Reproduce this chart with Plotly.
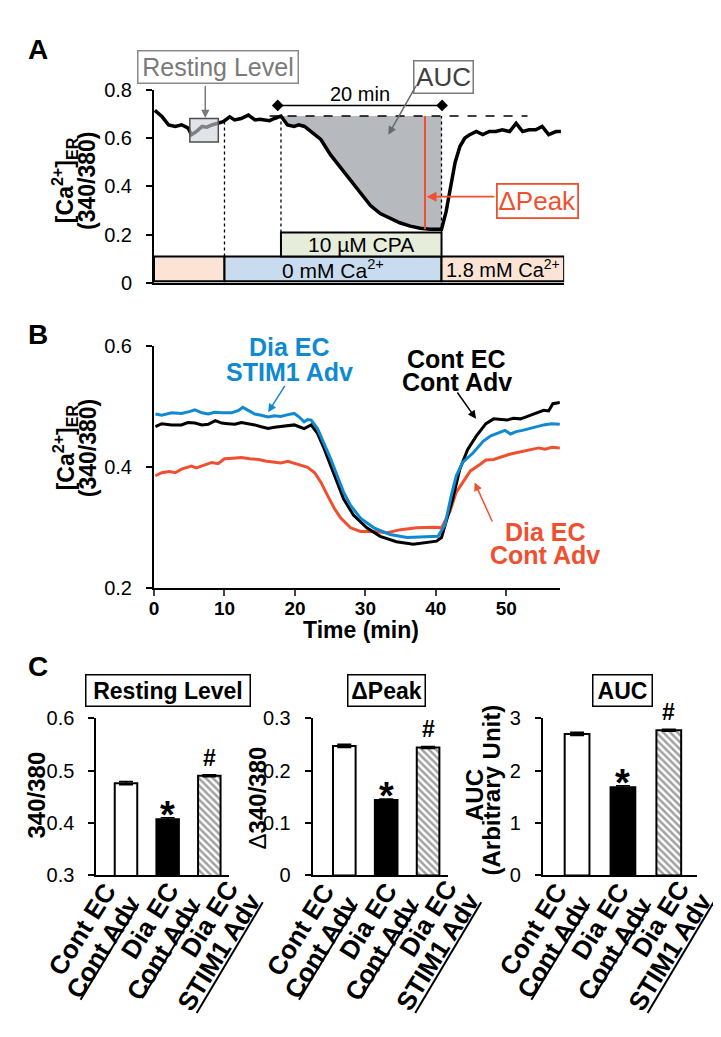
import plotly.graph_objects as go
import numpy as np

W, H = 721, 1037
FONT = "Liberation Sans, Arial, Helvetica, sans-serif"
BLUE = "#0f8ad2"
RED = "#f0502f"

# ---------------- Panel A data (representative trace) ----------------
a_time = [0.1, 1.0, 1.8, 2.6, 3.4, 4.2, 4.6, 5.2, 5.9, 6.5, 7.1, 7.9, 8.5, 9.3, 9.9,
          10.7, 11.6, 12.4, 13.0, 13.6, 14.2, 14.8, 15.6, 16.4, 17.2, 17.8, 18.5, 19.3,
          20.5, 21.7, 22.9, 24.2, 25.4, 26.6, 27.8, 29.0, 30.2, 31.5, 32.7, 33.9, 35.1,
          35.33, 35.9, 36.6, 37.0, 37.6, 38.2, 38.8, 39.6, 40.4, 41.2, 42.0, 42.8, 43.7,
          44.5, 45.3, 46.1, 46.9, 47.7, 48.5, 49.4, 50.0]
a_ratio = [0.715, 0.688, 0.654, 0.648, 0.655, 0.641, 0.614, 0.627, 0.648, 0.645, 0.654,
           0.661, 0.668, 0.688, 0.675, 0.681, 0.695, 0.675, 0.678, 0.675, 0.672, 0.681,
           0.691, 0.654, 0.648, 0.655, 0.648, 0.627, 0.594, 0.530, 0.480, 0.425, 0.372,
           0.320, 0.287, 0.268, 0.249, 0.235, 0.226, 0.222, 0.222, 0.222, 0.296, 0.417,
           0.499, 0.566, 0.600, 0.614, 0.627, 0.614, 0.627, 0.627, 0.634, 0.627, 0.661,
           0.627, 0.634, 0.634, 0.648, 0.614, 0.627, 0.627]
a_zero_ca_start = 8.66
a_cpa_start, a_cpa_end = 15.6, 35.33
a_record_end = 50.4
a_rest_level = 0.691
a_bracket = [15.2, 35.4]
a_rest_window = [4.4, 7.9]
a_peak_time = 33.3
a_peak_min = 0.222

# ---------------- Panel B data ----------------
b_t_cont = [0.2, 1.1, 2.5, 3.9, 4.8, 5.8, 6.8, 7.7, 8.7, 9.6, 10.5, 11.5, 12.4, 13.4, 14.3,
            15.2, 16.2, 17.1, 18.0, 19.0, 19.9, 20.6, 21.3, 22.3, 23.2, 24.1, 25.1, 26.0,
            26.9, 28.3, 30.2, 32.1, 34.4, 36.8, 38.7, 40.1, 40.8, 41.5, 42.4, 43.4, 44.5,
            45.7, 47.1, 48.2, 49.1, 50.1, 51.0, 52.0, 53.0, 54.0, 55.3, 56.0, 56.6, 57.6]
b_cont = [0.467, 0.472, 0.470, 0.470, 0.474, 0.473, 0.470, 0.471, 0.477, 0.473, 0.472,
          0.471, 0.474, 0.472, 0.470, 0.467, 0.464, 0.466, 0.467, 0.468, 0.470, 0.467,
          0.464, 0.470, 0.456, 0.432, 0.402, 0.375, 0.348, 0.321, 0.300, 0.286, 0.277,
          0.273, 0.276, 0.278, 0.284, 0.311, 0.348, 0.397, 0.429, 0.451, 0.472, 0.480,
          0.479, 0.478, 0.481, 0.480, 0.484, 0.488, 0.494, 0.493, 0.505, 0.507]

b_t_stim = [0.2, 1.1, 2.5, 3.9, 5.0, 5.8, 6.8, 7.7, 8.6, 9.6, 11.0, 12.0, 12.6, 13.4, 14.3,
            15.2, 16.2, 17.1, 18.0, 19.0, 19.9, 20.6, 21.3, 21.8, 22.3, 23.2, 24.1, 25.1,
            26.0, 26.9, 27.9, 29.3, 31.2, 33.5, 35.9, 38.7, 40.3, 41.3, 42.2, 42.9, 43.8,
            45.3, 46.7, 47.8, 48.8, 49.8, 50.6, 51.4, 52.3, 53.3, 54.3, 55.3, 56.4, 57.6]
b_stim = [0.488, 0.486, 0.490, 0.489, 0.492, 0.495, 0.490, 0.488, 0.491, 0.490, 0.490,
          0.494, 0.499, 0.494, 0.488, 0.486, 0.483, 0.485, 0.484, 0.487, 0.489, 0.483,
          0.475, 0.479, 0.478, 0.464, 0.440, 0.413, 0.386, 0.359, 0.337, 0.316, 0.300,
          0.289, 0.284, 0.285, 0.286, 0.305, 0.354, 0.386, 0.408, 0.424, 0.443, 0.452,
          0.456, 0.461, 0.455, 0.459, 0.461, 0.464, 0.466, 0.470, 0.472, 0.471]

b_t_dia = [0.2, 1.1, 2.2, 3.0, 3.9, 5.3, 6.0, 6.7, 7.5, 8.2, 9.1, 10.0, 11.2, 12.4, 13.6,
           14.8, 16.0, 17.1, 18.0, 19.0, 20.4, 21.8, 22.8, 23.7, 24.6, 25.6, 26.5, 27.9,
           29.3, 31.2, 33.1, 35.0, 37.3, 39.7, 40.8, 42.0, 42.9, 44.1, 44.9, 46.3, 47.1,
           48.2, 49.5, 50.6, 51.4, 52.5, 53.3, 54.6, 55.5, 56.5, 57.6]
b_dia = [0.386, 0.391, 0.393, 0.391, 0.397, 0.402, 0.399, 0.402, 0.405, 0.408, 0.406,
         0.414, 0.415, 0.416, 0.414, 0.413, 0.410, 0.408, 0.407, 0.410, 0.405, 0.400,
         0.391, 0.375, 0.354, 0.332, 0.316, 0.300, 0.294, 0.294, 0.292, 0.297, 0.300,
         0.301, 0.300, 0.327, 0.359, 0.381, 0.394, 0.405, 0.412, 0.413, 0.418, 0.422,
         0.424, 0.427, 0.429, 0.432, 0.430, 0.433, 0.432]

# ---------------- Panel C data ----------------
groups = ["Cont EC / Cont Adv", "Dia EC / Cont Adv", "Dia EC / STIM1 Adv"]
label_lines = [("Cont EC", "Cont Adv"), ("Dia EC", "Cont Adv"), ("Dia EC", "STIM1 Adv")]
rest_mean = [0.476, 0.407, 0.490]
rest_err = [0.003, 0.003, 0.002]
peak_mean = [0.247, 0.144, 0.244]
peak_err = [0.003, 0.002, 0.002]
auc_mean = [2.70, 1.68, 2.77]
auc_err = [0.03, 0.03, 0.02]
marks = ["", "*", "#"]


def PX(x):
    return x / W


def PY(y):
    return 1 - y / H


fig = go.Figure()

# ---- Panel A traces ----
ta = np.array(a_time)
va = np.array(a_ratio)
m = (ta >= a_cpa_start) & (ta <= a_cpa_end)
fx = np.concatenate([[a_cpa_start], ta[m], [a_cpa_end, a_cpa_start]])
fy = np.concatenate([[a_rest_level], va[m], [a_rest_level, a_rest_level]])
fig.add_trace(go.Scatter(x=fx, y=fy, fill="toself", fillcolor="#b6babf", mode="lines",
                         line=dict(width=0), xaxis="x", yaxis="y", hoverinfo="skip"))
fig.add_trace(go.Scatter(x=a_time, y=a_ratio, mode="lines", line=dict(color="black", width=3.5),
                         xaxis="x", yaxis="y"))
fig.add_trace(go.Scatter(x=a_bracket, y=[0.735, 0.735], mode="lines+markers",
                         line=dict(color="black", width=1.5),
                         marker=dict(symbol="diamond", size=9, color="black"),
                         xaxis="x", yaxis="y"))

# ---- Panel B traces ----
fig.add_trace(go.Scatter(x=b_t_dia, y=b_dia, mode="lines", line=dict(color=RED, width=3),
                         xaxis="x2", yaxis="y2"))
fig.add_trace(go.Scatter(x=b_t_cont, y=b_cont, mode="lines", line=dict(color="black", width=3),
                         xaxis="x2", yaxis="y2"))
fig.add_trace(go.Scatter(x=b_t_stim, y=b_stim, mode="lines", line=dict(color=BLUE, width=3),
                         xaxis="x2", yaxis="y2"))

# ---- Panel C bars ----
bar_colors = ["white", "black", "white"]
bar_shapes = ["", "", "\\"]
for i, (means, errs) in enumerate([(rest_mean, rest_err), (peak_mean, peak_err), (auc_mean, auc_err)]):
    fig.add_trace(go.Bar(x=groups, y=means, width=0.54,
                         error_y=dict(type="data", array=errs, color="black", thickness=1.5, width=7),
                         marker=dict(color=bar_colors, line=dict(color="black", width=2),
                                     pattern=dict(shape=bar_shapes, fgcolor="black", bgcolor="white",
                                                  size=5, solidity=0.5, fillmode="overlay")),
                         xaxis="x%d" % (i + 3), yaxis="y%d" % (i + 3)))

# ---------------- axes ----------------
tickfont = dict(family=FONT, size=20, color="black")
boldtick = dict(family=FONT, size=19, color="black", weight="bold")


def yax(domain, rng, tv, tt, anchor):
    return dict(domain=domain, range=rng, tickvals=tv, ticktext=tt, anchor=anchor,
                showline=True, linecolor="black", linewidth=2, ticks="outside", ticklen=6,
                tickwidth=2, tickcolor="black", showgrid=False, zeroline=False,
                tickfont=tickfont, ticklabelstandoff=10)


def xcat(domain, rng, anchor):
    return dict(domain=domain, range=rng, anchor=anchor, type="category", showline=True,
                linecolor="black", linewidth=2, ticks="", showticklabels=False,
                showgrid=False, zeroline=False)


layout = dict(
    width=W, height=H, margin=dict(l=0, r=0, t=0, b=0), showlegend=False,
    plot_bgcolor="white", paper_bgcolor="white", font=dict(family=FONT, color="black"),
    bargap=0.3,
    xaxis=dict(domain=[PX(142), PX(555)], range=[0, a_record_end], anchor="y", showline=True,
               linecolor="black", linewidth=2, ticks="", showticklabels=False, showgrid=False,
               zeroline=False),
    yaxis=yax([PY(269.6), PY(72.3)], [0, 0.8], [0, 0.2, 0.4, 0.6, 0.8],
              ["0", "0.2", "0.4", "0.6", "0.8"], "x"),
    xaxis2=dict(domain=[PX(142), PX(550.7)], range=[0, 57.6], anchor="y2", showline=True,
                linecolor="black", linewidth=2, ticks="outside", ticklen=6, tickwidth=2,
                tickvals=[0, 10, 20, 30, 40, 50], tickfont=boldtick, showgrid=False,
                zeroline=False, ticklabelstandoff=-4),
    yaxis2=yax([PY(581.7), PY(334.3)], [0.2, 0.6], [0.2, 0.4, 0.6], ["0.2", "0.4", "0.6"], "x2"),
    xaxis3=xcat([PX(84), PX(217.4)], [-0.71, 2.47], "y3"),
    yaxis3=yax([PY(875), PY(714.3)], [0.3, 0.6], [0.3, 0.4, 0.5, 0.6], ["0.3", "0.4", "0.5", "0.6"], "x3"),
    xaxis4=xcat([PX(301.8), PX(437.8)], [-0.754, 2.47], "y4"),
    yaxis4=yax([PY(875), PY(714.3)], [0, 0.3], [0, 0.1, 0.2, 0.3], ["0", "0.1", "0.2", "0.3"], "x4"),
    xaxis5=xcat([PX(533.6), PX(689)], [-0.745, 2.62], "y5"),
    yaxis5=yax([PY(875), PY(714.3)], [0, 3], [0, 1, 2, 3], ["0", "1", "2", "3"], "x5"),
)
fig.update_layout(**layout)

# ---------------- shapes ----------------
shapes = []
PEACH, LBLUE, LGREEN = "#fbe4d5", "#c9dcef", "#e6eedb"
for x0, x1, c in [(0, a_zero_ca_start, PEACH), (a_zero_ca_start, a_cpa_end, LBLUE),
                  (a_cpa_end, a_record_end, PEACH)]:
    shapes.append(dict(type="rect", xref="x", yref="y", x0=x0, x1=x1, y0=0.007, y1=0.109,
                       fillcolor=c, line=dict(color="black", width=2), layer="above"))
shapes.append(dict(type="rect", xref="x", yref="y", x0=a_cpa_start, x1=a_cpa_end, y0=0.109,
                   y1=0.209, fillcolor=LGREEN, line=dict(color="black", width=2), layer="above"))
dot = dict(color="black", width=1.3, dash="dot")
shapes.append(dict(type="line", xref="x", yref="y", x0=a_zero_ca_start, x1=a_zero_ca_start,
                   y0=0.109, y1=0.668, line=dot, layer="above"))
shapes.append(dict(type="line", xref="x", yref="y", x0=a_cpa_start, x1=a_cpa_start,
                   y0=0.209, y1=a_rest_level, line=dot, layer="above"))
shapes.append(dict(type="line", xref="x", yref="y", x0=a_cpa_end, x1=a_cpa_end,
                   y0=0.209, y1=a_rest_level, line=dot, layer="above"))
shapes.append(dict(type="line", xref="x", yref="y", x0=14.2, x1=45.9, y0=a_rest_level,
                   y1=a_rest_level, line=dict(color="black", width=1.5, dash="dash"), layer="above"))
shapes.append(dict(type="rect", xref="x", yref="y", x0=a_rest_window[0], x1=a_rest_window[1],
                   y0=0.584, y1=0.681, fillcolor="rgba(205,212,220,0.62)",
                   line=dict(color="#4d4d4d", width=1.5), layer="above"))
shapes.append(dict(type="line", xref="x", yref="y", x0=a_peak_time, x1=a_peak_time,
                   y0=a_peak_min, y1=a_rest_level, line=dict(color=RED, width=2), layer="above"))

# underlines for category labels (panel C)
underlines = [((68, 1002), (126.5, 904)), ((130, 1000.5), (188, 904)),
              ((185, 1015.5), (251.5, 902.5))]
offsets = [0, 220, 454]
for off in offsets:
    for (x0, y0), (x1, y1) in underlines:
        shapes.append(dict(type="line", xref="paper", yref="paper", x0=PX(x0 + off), y0=PY(y0),
                           x1=PX(x1 + off), y1=PY(y1), line=dict(color="black", width=2)))
fig.update_layout(shapes=shapes)

# ---------------- annotations ----------------
ann = []


def ptext(x, y, text, size, color="black", angle=0, **kw):
    d = dict(xref="paper", yref="paper", x=PX(x), y=PY(y), text=text, showarrow=False,
             font=dict(family=FONT, size=size, color=color), textangle=angle,
             xanchor="center", yanchor="middle")
    d.update(kw)
    return d


# panel letters
ann.append(ptext(25, 31, "<b>A</b>", 28))
ann.append(ptext(25, 322, "<b>B</b>", 28))
ann.append(ptext(25, 662, "<b>C</b>", 28))

# y titles A & B
for yc in (165, 438):
    ann.append(ptext(52, yc, "<b>[Ca<sup>2+</sup>]<sub>ER</sub></b>", 23, angle=-90))
    ann.append(ptext(75, yc, "<b>(340/380)</b>", 23, angle=-90))

# panel A labels
ann.append(ptext(206.5, 49.5, "Resting Level", 25, color="#7a7a7a", bordercolor="#8a8a8a",
                 borderwidth=1.5, borderpad=0, width=159, height=31, bgcolor="white"))
ann.append(dict(xref="x", yref="y", x=6.3, y=0.683, ax=6.3, ay=0.822, axref="x", ayref="y",
                showarrow=True, arrowhead=2, arrowsize=1.1, arrowwidth=1.5, arrowcolor="#7a7a7a",
                text=""))
ann.append(ptext(434, 59.5, "AUC", 26, color="#404040", bordercolor="#7a7a7a", borderwidth=1.5,
                 borderpad=0, width=58, height=31, bgcolor="white"))
ann.append(dict(xref="x", yref="y", x=28.8, y=0.614, ax=32.3, ay=0.822, axref="x", ayref="y",
                showarrow=True, arrowhead=2, arrowsize=1.1, arrowwidth=1.5, arrowcolor="#6a6a6a",
                text=""))
ann.append(dict(xref="x", yref="y", x=sum(a_bracket) / 2, y=0.783, text="20 min", showarrow=False,
                font=dict(family=FONT, size=20, color="black")))
ann.append(ptext(528.3, 186.2, "ΔPeak", 26, color=RED, bordercolor=RED, borderwidth=1.8,
                 borderpad=0, width=79, height=32, bgcolor="white"))
ann.append(dict(xref="x", yref="y", x=a_peak_time + 0.2, y=0.357, ax=42.0, ay=0.357, axref="x",
                ayref="y", showarrow=True, arrowhead=2, arrowsize=1.1, arrowwidth=1.8,
                arrowcolor=RED, text=""))
ann.append(dict(xref="x", yref="y", x=(a_cpa_start + a_cpa_end) / 2, y=0.159, text="10 µM CPA",
                showarrow=False, font=dict(family=FONT, size=21, color="black")))
ann.append(dict(xref="x", yref="y", x=(a_zero_ca_start + a_cpa_end) / 2, y=0.058,
                text="0 mM Ca<sup>2+</sup>", showarrow=False,
                font=dict(family=FONT, size=21, color="black")))
ann.append(dict(xref="x", yref="y", x=(a_cpa_end + a_record_end) / 2, y=0.058,
                text="1.8 mM Ca<sup>2+</sup>", showarrow=False,
                font=dict(family=FONT, size=20, color="black")))

# panel B labels
ann.append(ptext(278.6, 335, "<b>Dia EC</b>", 25, color=BLUE))
ann.append(ptext(278.6, 360.5, "<b>STIM1 Adv</b>", 25, color=BLUE))
ann.append(ptext(447, 347, "<b>Cont EC</b>", 25))
ann.append(ptext(447, 370.5, "<b>Cont Adv</b>", 25))
ann.append(ptext(535.8, 524.5, "<b>Dia EC</b>", 25, color=RED))
ann.append(ptext(535.8, 548, "<b>Cont Adv</b>", 25, color=RED))
for (x0, y0, x1, y1, c) in [(18.7, 0.537, 16.2, 0.491, BLUE), (42.9, 0.526, 45.7, 0.480, "black"),
                            (48.1, 0.308, 45.5, 0.375, RED)]:
    ann.append(dict(xref="x2", yref="y2", x=x1, y=y1, ax=x0, ay=y0, axref="x2", ayref="y2",
                    showarrow=True, arrowhead=2, arrowsize=1.1, arrowwidth=1.5, arrowcolor=c,
                    text=""))
ann.append(ptext(350, 624, "<b>Time (min)</b>", 23))

# panel C titles
ann.append(ptext(156.5, 686.5, "<b>Resting Level</b>", 23, bordercolor="black", borderwidth=1.5,
                 borderpad=0, width=163, height=30))
ann.append(ptext(376.2, 686.5, "<b>ΔPeak</b>", 23, bordercolor="black", borderwidth=1.5,
                 borderpad=0, width=76, height=30))
ann.append(ptext(613.8, 686.5, "<b>AUC</b>", 23, bordercolor="black", borderwidth=1.5,
                 borderpad=0, width=58, height=30))
ann.append(ptext(24, 792.5, "<b>340/380</b>", 24, angle=-90))
ann.append(ptext(246, 796, "Δ<b>340/380</b>", 24, angle=-90))
ann.append(ptext(464, 793, "<b>AUC</b>", 24, angle=-90))
ann.append(ptext(482, 787.5, "<b>(Arbitrary Unit)</b>", 24, angle=-90))

# significance marks
for i, (means, errs) in enumerate([(rest_mean, rest_err), (peak_mean, peak_err), (auc_mean, auc_err)]):
    for g, mval, e, mk in zip(groups, means, errs, marks):
        if not mk:
            continue
        size = 38 if mk == "*" else 23
        shift = -20 if mk == "*" else 2
        ann.append(dict(xref="x%d" % (i + 3), yref="y%d" % (i + 3), x=g, y=mval + e, text="<b>%s</b>" % mk,
                        showarrow=False, yanchor="bottom", yshift=shift,
                        font=dict(family=FONT, size=size, color="black")))

# rotated category labels
centers = [((70, 930), (90.9, 948.4)), ((137.5, 921.5), (151.5, 949.9)),
           ((197.4, 919), (207.5, 953.4))]
for off in offsets:
    for (l1, l2), (c1, c2) in zip(label_lines, centers):
        ann.append(ptext(c1[0] + off, c1[1], "<b>%s</b>" % l1, 26, angle=-58))
        ann.append(ptext(c2[0] + off, c2[1], "<b>%s</b>" % l2, 26, angle=-58))

fig.update_layout(annotations=ann)
fig.write_html("out.html")
